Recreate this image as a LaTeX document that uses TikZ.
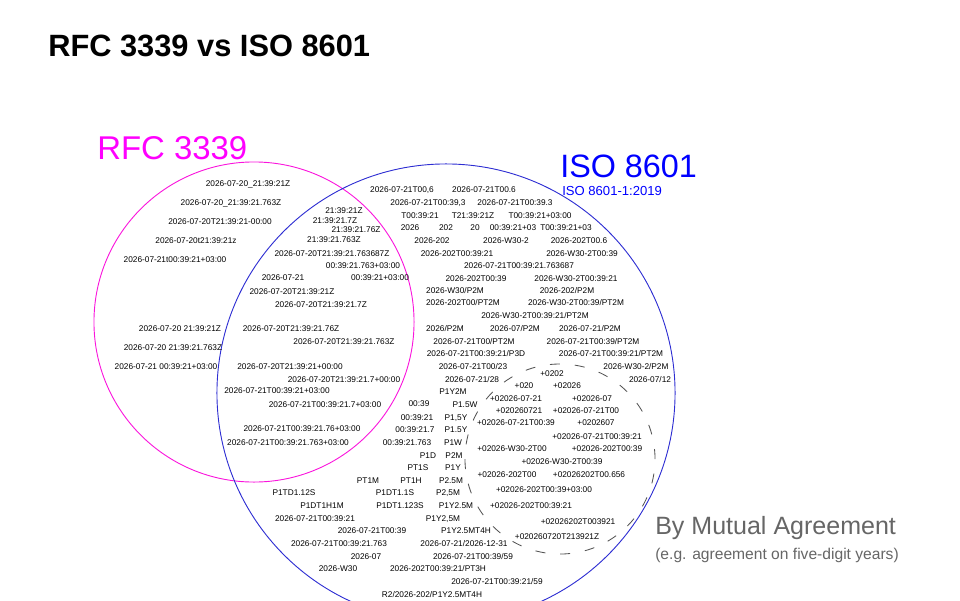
\documentclass[tikz,border=0pt]{standalone}
\usepackage{fontspec}
\setmainfont{Liberation Sans}
\usepackage{xcolor}
\definecolor{rfcpink}{RGB}{255,0,255}
\definecolor{isoblue}{RGB}{0,0,255}
\definecolor{isoline}{RGB}{45,45,210}
\definecolor{rfcline}{RGB}{250,20,220}
\definecolor{agreegray}{RGB}{102,102,102}
\definecolor{dashgray}{RGB}{85,85,85}

\begin{document}
\begin{tikzpicture}[x=0.025cm, y=-0.025cm,
  every node/.style={inner sep=0pt},
  stamp/.style={font=\fontsize{5.9}{7}\selectfont},
  setline/.style={line width=0.65pt}]
  \useasboundingbox (0,0) rectangle (960,600);
  \clip (0,0) rectangle (960,600);
  % Title
  \node[anchor=base west, font=\bfseries\fontsize{21.9}{26}\selectfont] (title) at (48,56) {RFC 3339 vs ISO 8601};
  % Sets
  \coordinate (rfc) at (254,322);
  \coordinate (iso) at (446,393);
  \coordinate (agree) at (560,459);
  \draw[setline, rfcline] (rfc) circle[radius=4cm];
  \draw[setline, isoline] (iso) circle[radius=5.725cm];
  \draw[line width=0.6pt, dashgray, dash pattern=on 7.1pt off 10.6pt] (agree) circle[radius=2.375cm];
  % Set labels
  \node[anchor=base west, rfcpink, font=\fontsize{23.4}{28}\selectfont] (rfclab) at (97,159) {RFC 3339};
  \node[anchor=base west, isoblue, font=\fontsize{23}{28}\selectfont] (isolab) at (560,177) {ISO 8601};
  \node[anchor=base west, isoblue, font=\fontsize{9.3}{11}\selectfont] (isosub) at (562,195.5) {ISO 8601-1:2019};
  \node[anchor=base west, agreegray, font=\fontsize{17.8}{21}\selectfont] (agreelab) at (655,534) {By Mutual Agreement};
  \node[anchor=base west, agreegray, font=\fontsize{11.1}{13}\selectfont] (agreesub) at (655,559) {(e.g. agreement on five-digit years)};
  % RFC 3339 only
  \foreach \x/\y/\t [count=\i] in {
      248/184/{2026-07-20\_21:39:21Z}, 231/203/{2026-07-20\_21:39:21.763Z},
      220/222/{2026-07-20T21:39:21-00:00}, 196/241/{2026-07-20t21:39:21z},
      175/260/{2026-07-21t00:39:21+03:00}, 180/329/{2026-07-20 21:39:21Z},
      173/348/{2026-07-20 21:39:21.763Z}, 166/367/{2026-07-21 00:39:21+03:00}}
    \node[stamp] (rfc\i) at (\x,\y) {\t};
  % Both
  \foreach \x/\y/\t [count=\i] in {
      344/211/{21:39:21Z}, 335/221/{21:39:21.7Z}, 356/230/{21:39:21.76Z},
      334/240/{21:39:21.763Z}, 332/254/{2026-07-20T21:39:21.763687Z},
      363/266/{00:39:21.763+03:00}, 283/278/{2026-07-21}, 380/278/{00:39:21+03:00},
      292/292/{2026-07-20T21:39:21Z}, 321/305/{2026-07-20T21:39:21.7Z},
      291/329/{2026-07-20T21:39:21.76Z}, 344/342/{2026-07-20T21:39:21.763Z},
      290/367/{2026-07-20T21:39:21+00:00}, 344/380/{2026-07-20T21:39:21.7+00:00},
      277/391/{2026-07-21T00:39:21+03:00}, 325/405/{2026-07-21T00:39:21.7+03:00},
      302/429/{2026-07-21T00:39:21.76+03:00}, 288/443/{2026-07-21T00:39:21.763+03:00}}
    \node[stamp] (both\i) at (\x,\y) {\t};
  % ISO 8601 only
  \foreach \x/\y/\t [count=\i] in {
      402/190/{2026-07-21T00,6}, 484/190/{2026-07-21T00.6},
      428/203/{2026-07-21T00:39,3}, 515/203/{2026-07-21T00:39.3},
      420/216/{T00:39:21}, 473/216/{T21:39:21Z}, 540/216/{T00:39:21+03:00},
      410/228/{2026}, 446/228/{202}, 475/228/{20}, 513/228/{00:39:21+03}, 566/228/{T00:39:21+03},
      432/241/{2026-202}, 506/241/{2026-W30-2}, 579/241/{2026-202T00.6},
      457/254/{2026-202T00:39:21}, 582/254/{2026-W30-2T00:39},
      519/266/{2026-07-21T00:39:21.763687},
      476/279/{2026-202T00:39}, 576/279/{2026-W30-2T00:39:21},
      455/291/{2026-W30/P2M}, 567/291/{2026-202/P2M},
      463/303/{2026-202T00/PT2M}, 576/303/{2026-W30-2T00:39/PT2M},
      535/316/{2026-W30-2T00:39:21/PT2M},
      445/329/{2026/P2M}, 515/329/{2026-07/P2M}, 590/329/{2026-07-21/P2M},
      474/342/{2026-07-21T00/PT2M}, 593/342/{2026-07-21T00:39/PT2M},
      476/354/{2026-07-21T00:39:21/P3D}, 611/354/{2026-07-21T00:39:21/PT2M},
      473/367/{2026-07-21T00/23}, 636/367/{2026-W30-2/P2M},
      472/380/{2026-07-21/28}, 650/380/{2026-07/12},
      453/392/{P1Y2M}, 419/404/{00:39}, 465/405/{P1.5W},
      417/418/{00:39:21}, 456/418/{P1,5Y}, 415/430/{00:39:21.7}, 456/430/{P1.5Y},
      407/443/{00:39:21.763}, 453/443/{P1W}, 428/456/{P1D}, 454/456/{P2M},
      418/468/{PT1S}, 453/468/{P1Y}, 368/481/{PT1M}, 411/481/{PT1H}, 451/481/{P2.5M},
      294/493/{P1TD1.12S}, 395/493/{P1DT1.1S}, 448/493/{P2,5M},
      322/506/{P1DT1H1M}, 400/506/{P1DT1.123S}, 456/506/{P1Y2.5M},
      315/519/{2026-07-21T00:39:21}, 443/519/{P1Y2,5M},
      372/531/{2026-07-21T00:39}, 466/531/{P1Y2.5MT4H},
      339/544/{2026-07-21T00:39:21.763}, 464/544/{2026-07-21/2026-12-31},
      366/557/{2026-07}, 473/557/{2026-07-21T00:39/59},
      338/569/{2026-W30}, 438/569/{2026-202T00:39:21/PT3H},
      497/582/{2026-07-21T00:39:21/59}, 432/595/{R2/2026-202/P1Y2.5MT4H}}
    \node[stamp] (iso\i) at (\x,\y) {\t};
  % By mutual agreement
  \foreach \x/\y/\t [count=\i] in {
      552/374/{+0202}, 524/386/{+020}, 567/386/{+02026},
      516/399/{+02026-07-21}, 592/399/{+02026-07},
      519/411/{+020260721}, 586/411/{+02026-07-21T00},
      516/423/{+02026-07-21T00:39}, 596/423/{+0202607},
      597/437/{+02026-07-21T00:39:21},
      512/449/{+02026-W30-2T00}, 607/449/{+02026-202T00:39},
      562/462/{+02026-W30-2T00:39},
      507/475/{+02026-202T00}, 589/475/{+02026202T00.656},
      544/490/{+02026-202T00:39+03:00}, 531/506/{+02026-202T00:39:21},
      578/522/{+02026202T003921}, 557/537/{+020260720T213921Z}}
    \node[stamp] (agree\i) at (\x,\y) {\t};
\end{tikzpicture}
\end{document}
